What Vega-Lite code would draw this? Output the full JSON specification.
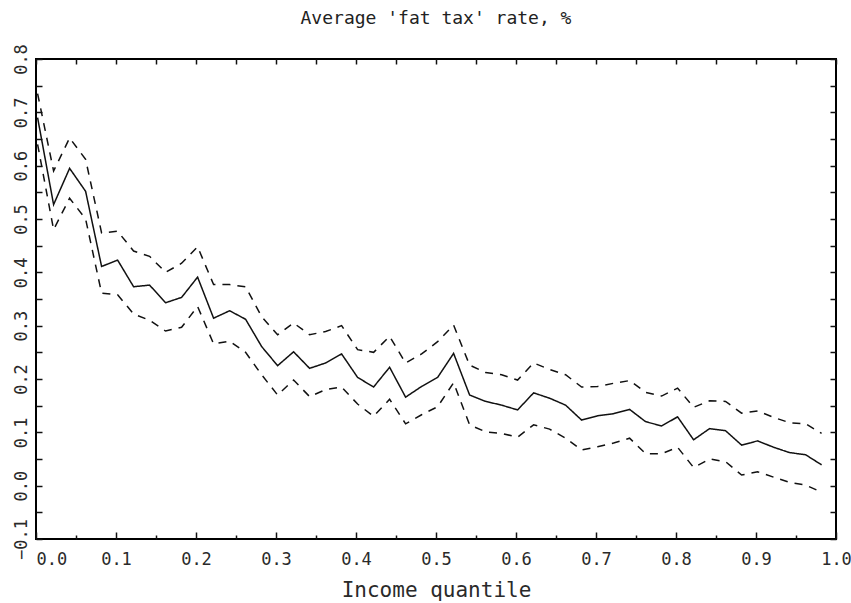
{
  "$schema": "https://vega.github.io/schema/vega-lite/v6.json",
  "width": 800,
  "height": 480,
  "autosize": "none",
  "padding": {"left": 36, "top": 59, "right": 15, "bottom": 64},
  "background": "white",
  "title": {"text": "Average 'fat tax' rate, %", "font": "DejaVu Sans Mono", "fontSize": 18, "fontWeight": "normal", "color": "#222222", "offset": 16, "anchor": "middle"},
  "data": {"values": [
    {"q":0.002,"r":0.690,"s":"mean"},{"q":0.022,"r":0.527,"s":"mean"},{"q":0.042,"r":0.595,"s":"mean"},{"q":0.062,"r":0.552,"s":"mean"},{"q":0.082,"r":0.411,"s":"mean"},
    {"q":0.102,"r":0.423,"s":"mean"},{"q":0.122,"r":0.373,"s":"mean"},{"q":0.142,"r":0.376,"s":"mean"},{"q":0.162,"r":0.343,"s":"mean"},{"q":0.182,"r":0.353,"s":"mean"},
    {"q":0.202,"r":0.391,"s":"mean"},{"q":0.222,"r":0.314,"s":"mean"},{"q":0.242,"r":0.328,"s":"mean"},{"q":0.262,"r":0.312,"s":"mean"},{"q":0.282,"r":0.261,"s":"mean"},
    {"q":0.302,"r":0.225,"s":"mean"},{"q":0.322,"r":0.251,"s":"mean"},{"q":0.342,"r":0.220,"s":"mean"},{"q":0.362,"r":0.230,"s":"mean"},{"q":0.382,"r":0.247,"s":"mean"},
    {"q":0.402,"r":0.203,"s":"mean"},{"q":0.422,"r":0.185,"s":"mean"},{"q":0.442,"r":0.222,"s":"mean"},{"q":0.462,"r":0.166,"s":"mean"},{"q":0.482,"r":0.186,"s":"mean"},
    {"q":0.502,"r":0.203,"s":"mean"},{"q":0.522,"r":0.248,"s":"mean"},{"q":0.542,"r":0.170,"s":"mean"},{"q":0.562,"r":0.158,"s":"mean"},{"q":0.582,"r":0.151,"s":"mean"},
    {"q":0.602,"r":0.142,"s":"mean"},{"q":0.622,"r":0.174,"s":"mean"},{"q":0.642,"r":0.164,"s":"mean"},{"q":0.662,"r":0.151,"s":"mean"},{"q":0.682,"r":0.123,"s":"mean"},
    {"q":0.702,"r":0.131,"s":"mean"},{"q":0.722,"r":0.135,"s":"mean"},{"q":0.742,"r":0.143,"s":"mean"},{"q":0.762,"r":0.120,"s":"mean"},{"q":0.782,"r":0.112,"s":"mean"},
    {"q":0.802,"r":0.129,"s":"mean"},{"q":0.822,"r":0.086,"s":"mean"},{"q":0.842,"r":0.107,"s":"mean"},{"q":0.862,"r":0.103,"s":"mean"},{"q":0.882,"r":0.076,"s":"mean"},
    {"q":0.902,"r":0.084,"s":"mean"},{"q":0.922,"r":0.072,"s":"mean"},{"q":0.942,"r":0.062,"s":"mean"},{"q":0.962,"r":0.058,"s":"mean"},{"q":0.982,"r":0.039,"s":"mean"},

    {"q":0.002,"r":0.735,"s":"upper"},{"q":0.022,"r":0.590,"s":"upper"},{"q":0.042,"r":0.652,"s":"upper"},{"q":0.062,"r":0.612,"s":"upper"},{"q":0.082,"r":0.474,"s":"upper"},
    {"q":0.102,"r":0.477,"s":"upper"},{"q":0.122,"r":0.440,"s":"upper"},{"q":0.142,"r":0.430,"s":"upper"},{"q":0.162,"r":0.400,"s":"upper"},{"q":0.182,"r":0.417,"s":"upper"},
    {"q":0.202,"r":0.448,"s":"upper"},{"q":0.222,"r":0.377,"s":"upper"},{"q":0.242,"r":0.377,"s":"upper"},{"q":0.262,"r":0.373,"s":"upper"},{"q":0.282,"r":0.317,"s":"upper"},
    {"q":0.302,"r":0.283,"s":"upper"},{"q":0.322,"r":0.305,"s":"upper"},{"q":0.342,"r":0.283,"s":"upper"},{"q":0.362,"r":0.289,"s":"upper"},{"q":0.382,"r":0.300,"s":"upper"},
    {"q":0.402,"r":0.255,"s":"upper"},{"q":0.422,"r":0.250,"s":"upper"},{"q":0.442,"r":0.280,"s":"upper"},{"q":0.462,"r":0.230,"s":"upper"},{"q":0.482,"r":0.247,"s":"upper"},
    {"q":0.502,"r":0.270,"s":"upper"},{"q":0.522,"r":0.301,"s":"upper"},{"q":0.542,"r":0.226,"s":"upper"},{"q":0.562,"r":0.212,"s":"upper"},{"q":0.582,"r":0.208,"s":"upper"},
    {"q":0.602,"r":0.198,"s":"upper"},{"q":0.622,"r":0.230,"s":"upper"},{"q":0.642,"r":0.218,"s":"upper"},{"q":0.662,"r":0.208,"s":"upper"},{"q":0.682,"r":0.185,"s":"upper"},
    {"q":0.702,"r":0.186,"s":"upper"},{"q":0.722,"r":0.192,"s":"upper"},{"q":0.742,"r":0.197,"s":"upper"},{"q":0.762,"r":0.175,"s":"upper"},{"q":0.782,"r":0.168,"s":"upper"},
    {"q":0.802,"r":0.183,"s":"upper"},{"q":0.822,"r":0.147,"s":"upper"},{"q":0.842,"r":0.159,"s":"upper"},{"q":0.862,"r":0.158,"s":"upper"},{"q":0.882,"r":0.136,"s":"upper"},
    {"q":0.902,"r":0.140,"s":"upper"},{"q":0.922,"r":0.128,"s":"upper"},{"q":0.942,"r":0.118,"s":"upper"},{"q":0.962,"r":0.116,"s":"upper"},{"q":0.982,"r":0.098,"s":"upper"},

    {"q":0.002,"r":0.640,"s":"lower"},{"q":0.022,"r":0.480,"s":"lower"},{"q":0.042,"r":0.539,"s":"lower"},{"q":0.062,"r":0.500,"s":"lower"},{"q":0.082,"r":0.361,"s":"lower"},
    {"q":0.102,"r":0.358,"s":"lower"},{"q":0.122,"r":0.322,"s":"lower"},{"q":0.142,"r":0.310,"s":"lower"},{"q":0.162,"r":0.290,"s":"lower"},{"q":0.182,"r":0.297,"s":"lower"},
    {"q":0.202,"r":0.336,"s":"lower"},{"q":0.222,"r":0.266,"s":"lower"},{"q":0.242,"r":0.271,"s":"lower"},{"q":0.262,"r":0.250,"s":"lower"},{"q":0.282,"r":0.208,"s":"lower"},
    {"q":0.302,"r":0.170,"s":"lower"},{"q":0.322,"r":0.198,"s":"lower"},{"q":0.342,"r":0.167,"s":"lower"},{"q":0.362,"r":0.180,"s":"lower"},{"q":0.382,"r":0.185,"s":"lower"},
    {"q":0.402,"r":0.153,"s":"lower"},{"q":0.422,"r":0.130,"s":"lower"},{"q":0.442,"r":0.162,"s":"lower"},{"q":0.462,"r":0.116,"s":"lower"},{"q":0.482,"r":0.133,"s":"lower"},
    {"q":0.502,"r":0.148,"s":"lower"},{"q":0.522,"r":0.193,"s":"lower"},{"q":0.542,"r":0.114,"s":"lower"},{"q":0.562,"r":0.101,"s":"lower"},{"q":0.582,"r":0.098,"s":"lower"},
    {"q":0.602,"r":0.091,"s":"lower"},{"q":0.622,"r":0.114,"s":"lower"},{"q":0.642,"r":0.106,"s":"lower"},{"q":0.662,"r":0.089,"s":"lower"},{"q":0.682,"r":0.067,"s":"lower"},
    {"q":0.702,"r":0.073,"s":"lower"},{"q":0.722,"r":0.080,"s":"lower"},{"q":0.742,"r":0.089,"s":"lower"},{"q":0.762,"r":0.060,"s":"lower"},{"q":0.782,"r":0.060,"s":"lower"},
    {"q":0.802,"r":0.072,"s":"lower"},{"q":0.822,"r":0.034,"s":"lower"},{"q":0.842,"r":0.050,"s":"lower"},{"q":0.862,"r":0.045,"s":"lower"},{"q":0.882,"r":0.020,"s":"lower"},
    {"q":0.902,"r":0.026,"s":"lower"},{"q":0.922,"r":0.016,"s":"lower"},{"q":0.942,"r":0.006,"s":"lower"},{"q":0.962,"r":0.001,"s":"lower"},{"q":0.982,"r":-0.012,"s":"lower"}
  ]},
  "layer": [
    {
      "mark": {"type": "line", "color": "#111111", "strokeWidth": 1.5},
      "encoding": {
        "x": {"field": "q", "type": "quantitative",
          "scale": {"domain": [0, 1], "nice": false, "zero": false},
          "axis": {"orient": "bottom",
            "values": [0,0.05,0.1,0.15,0.2,0.25,0.3,0.35,0.4,0.45,0.5,0.55,0.6,0.65,0.7,0.75,0.8,0.85,0.9,0.95,1.0],
            "labelExpr": "abs(datum.value*10 - round(datum.value*10)) < 0.01 ? format(datum.value, '.1f') : ''",
            "tickSize": {"condition": {"test": "abs(datum.value*10 - round(datum.value*10)) < 0.01", "value": -7}, "value": -4},
            "labelAlign": {"condition": {"test": "datum.value < 0.01", "value": "left"}, "value": "center"},
            "labelPadding": 19,
            "labelOverlap": false, "labelFlush": false,
            "title": "Income quantile", "titlePadding": 9, "titleFontSize": 21}},
        "y": {"field": "r", "type": "quantitative",
          "scale": {"domain": [-0.1, 0.8], "nice": false, "zero": false},
          "axis": {"orient": "left",
            "values": [-0.1,-0.05,0,0.05,0.1,0.15,0.2,0.25,0.3,0.35,0.4,0.45,0.5,0.55,0.6,0.65,0.7,0.75,0.8],
            "labelExpr": "abs(datum.value*10 - round(datum.value*10)) < 0.01 ? format(datum.value, '.1f') : ''",
            "tickSize": -6,
            "labelAngle": -90, "labelAlign": "center", "labelBaseline": "bottom",
            "labelPadding": 12,
            "labelOverlap": false, "labelFlush": false,
            "title": null}},
        "detail": {"field": "s", "type": "nominal"},
        "strokeDash": {"field": "s", "type": "nominal",
          "scale": {"domain": ["mean", "upper", "lower"], "range": [[1, 0], [8, 7], [8, 7]]},
          "legend": null}
      }
    },
    {
      "mark": {"type": "line", "strokeOpacity": 0},
      "encoding": {
        "x": {"field": "q", "type": "quantitative",
          "scale": {"domain": [0, 1], "nice": false, "zero": false},
          "axis": {"orient": "top",
            "values": [0,0.05,0.1,0.15,0.2,0.25,0.3,0.35,0.4,0.45,0.5,0.55,0.6,0.65,0.7,0.75,0.8,0.85,0.9,0.95,1.0],
            "labels": false, "tickSize": -5, "title": null}},
        "y": {"field": "r", "type": "quantitative",
          "scale": {"domain": [-0.1, 0.8], "nice": false, "zero": false},
          "axis": {"orient": "right",
            "values": [-0.1,-0.05,0,0.05,0.1,0.15,0.2,0.25,0.3,0.35,0.4,0.45,0.5,0.55,0.6,0.65,0.7,0.75,0.8],
            "labels": false, "tickSize": -6, "title": null}},
        "detail": {"field": "s", "type": "nominal"}
      }
    }
  ],
  "resolve": {"axis": {"x": "independent", "y": "independent"}},
  "config": {
    "view": {"stroke": "#000000", "strokeWidth": 2},
    "axis": {"grid": false, "domain": false, "tickColor": "#111111", "tickWidth": 1.5,
      "labelFont": "DejaVu Sans Mono", "labelFontSize": 17, "labelColor": "#2a2a2a",
      "titleFont": "DejaVu Sans Mono", "titleFontSize": 21, "titleFontWeight": "normal", "titleColor": "#2a2a2a"}
  }
}
